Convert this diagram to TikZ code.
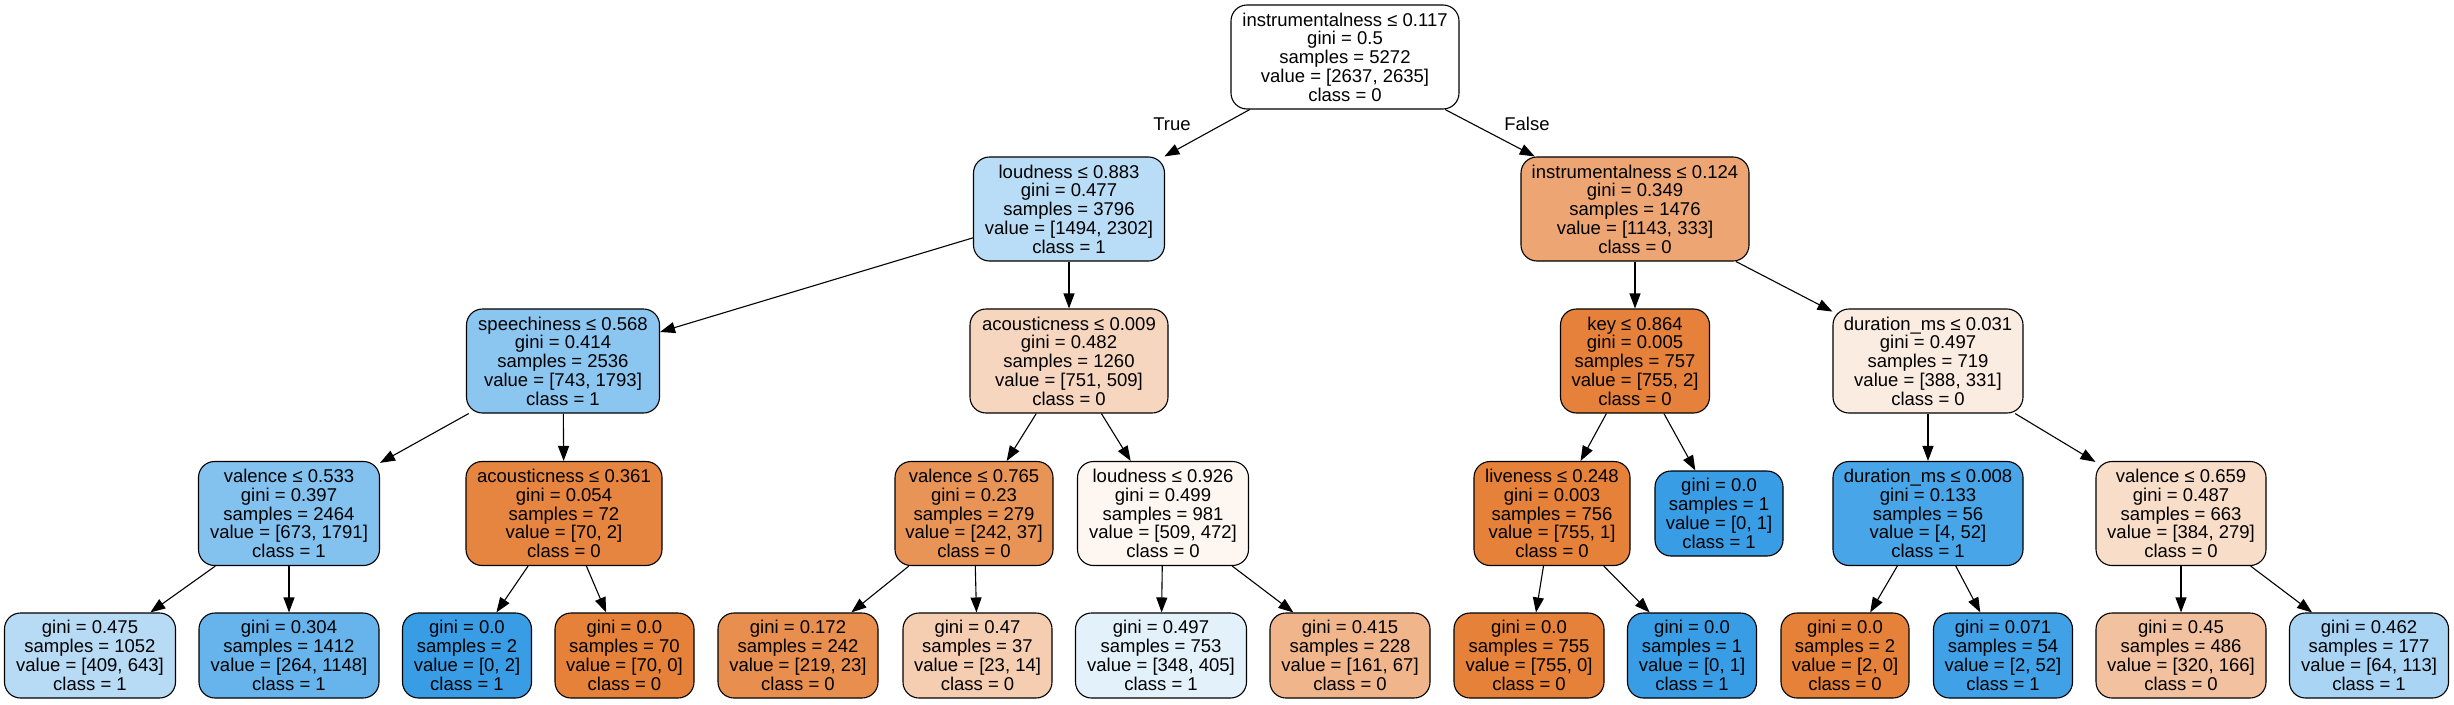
\documentclass[tikz,border=0pt]{standalone}
\usepackage{fontspec}
\setmainfont{Liberation Sans}
\usetikzlibrary{arrows.meta}
\tikzset{
  tn/.style={draw=black, line width=1.1pt, rounded corners=16pt, align=center, inner xsep=10pt, inner ysep=0pt,
    minimum height=104pt, font=\fontsize{18.5}{18.8}\selectfont},
  lf/.style={tn, minimum height=85pt},
  edge/.style={line width=1.1pt, -{Triangle[length=15pt,width=11pt]}},
  elab/.style={font=\fontsize{18.5}{18.8}\selectfont}
}
\begin{document}
\begin{tikzpicture}[x=1pt,y=-1pt]
\useasboundingbox (0,0) rectangle (2454,704);
% level 0
\node[tn, fill={rgb,255:red,255;green,255;blue,255}, minimum width=228pt] (root) at (1345,57) {instrumentalness ≤ 0.117\\gini = 0.5\\samples = 5272\\value = [2637, 2635]\\class = 0};
% level 1
\node[tn, fill={rgb,255:red,185;green,221;blue,246}, minimum width=191pt] (loud) at (1069,209) {loudness ≤ 0.883\\gini = 0.477\\samples = 3796\\value = [1494, 2302]\\class = 1};
\node[tn, fill={rgb,255:red,237;green,166;blue,115}, minimum width=228pt] (ins) at (1635,209) {instrumentalness ≤ 0.124\\gini = 0.349\\samples = 1476\\value = [1143, 333]\\class = 0};
% level 2
\node[tn, fill={rgb,255:red,139;green,198;blue,240}, minimum width=193pt] (spe) at (563,361) {speechiness ≤ 0.568\\gini = 0.414\\samples = 2536\\value = [743, 1793]\\class = 1};
\node[tn, fill={rgb,255:red,247;green,214;blue,191}, minimum width=198pt] (ac9) at (1069,361) {acousticness ≤ 0.009\\gini = 0.482\\samples = 1260\\value = [751, 509]\\class = 0};
\node[tn, fill={rgb,255:red,229;green,129;blue,58}, minimum width=149pt] (key) at (1635,361) {key ≤ 0.864\\gini = 0.005\\samples = 757\\value = [755, 2]\\class = 0};
\node[tn, fill={rgb,255:red,251;green,236;blue,226}, minimum width=190pt] (d31) at (1928,361) {duration\_ms ≤ 0.031\\gini = 0.497\\samples = 719\\value = [388, 331]\\class = 0};
% level 3
\node[tn, fill={rgb,255:red,131;green,194;blue,239}, minimum width=181pt] (v533) at (289,513.5) {valence ≤ 0.533\\gini = 0.397\\samples = 2464\\value = [673, 1791]\\class = 1};
\node[tn, fill={rgb,255:red,230;green,133;blue,63}, minimum width=196pt] (a361) at (564,513.5) {acousticness ≤ 0.361\\gini = 0.054\\samples = 72\\value = [70, 2]\\class = 0};
\node[tn, fill={rgb,255:red,233;green,148;blue,87}, minimum width=158pt] (v765) at (974,513.5) {valence ≤ 0.765\\gini = 0.23\\samples = 279\\value = [242, 37]\\class = 0};
\node[tn, fill={rgb,255:red,253;green,246;blue,241}, minimum width=171pt] (l926) at (1163,513.5) {loudness ≤ 0.926\\gini = 0.499\\samples = 981\\value = [509, 472]\\class = 0};
\node[tn, fill={rgb,255:red,229;green,129;blue,57}, minimum width=156pt] (live) at (1552,513.5) {liveness ≤ 0.248\\gini = 0.003\\samples = 756\\value = [755, 1]\\class = 0};
\node[lf, fill={rgb,255:red,57;green,157;blue,229}, minimum width=128pt] (lk) at (1719,513.5) {gini = 0.0\\samples = 1\\value = [0, 1]\\class = 1};
\node[tn, fill={rgb,255:red,72;green,165;blue,231}, minimum width=190pt] (d8) at (1928,513.5) {duration\_ms ≤ 0.008\\gini = 0.133\\samples = 56\\value = [4, 52]\\class = 1};
\node[tn, fill={rgb,255:red,248;green,221;blue,201}, minimum width=170pt] (v659) at (2181,513.5) {valence ≤ 0.659\\gini = 0.487\\samples = 663\\value = [384, 279]\\class = 0};
% level 4
\node[lf, fill={rgb,255:red,183;green,219;blue,245}, minimum width=171pt] (g1) at (90,655.5) {gini = 0.475\\samples = 1052\\value = [409, 643]\\class = 1};
\node[lf, fill={rgb,255:red,102;green,180;blue,235}, minimum width=180pt] (g2) at (289,655.5) {gini = 0.304\\samples = 1412\\value = [264, 1148]\\class = 1};
\node[lf, fill={rgb,255:red,57;green,157;blue,229}, minimum width=129pt] (g3) at (467,655.5) {gini = 0.0\\samples = 2\\value = [0, 2]\\class = 1};
\node[lf, fill={rgb,255:red,229;green,129;blue,57}, minimum width=139pt] (g4) at (624.5,655.5) {gini = 0.0\\samples = 70\\value = [70, 0]\\class = 0};
\node[lf, fill={rgb,255:red,232;green,142;blue,78}, minimum width=160pt] (g5) at (798,655.5) {gini = 0.172\\samples = 242\\value = [219, 23]\\class = 0};
\node[lf, fill={rgb,255:red,245;green,206;blue,177}, minimum width=149pt] (g6) at (977.5,655.5) {gini = 0.47\\samples = 37\\value = [23, 14]\\class = 0};
\node[lf, fill={rgb,255:red,227;green,241;blue,251}, minimum width=171pt] (g7) at (1161,655.5) {gini = 0.497\\samples = 753\\value = [348, 405]\\class = 1};
\node[lf, fill={rgb,255:red,240;green,181;blue,139}, minimum width=160pt] (g8) at (1350,655.5) {gini = 0.415\\samples = 228\\value = [161, 67]\\class = 0};
\node[lf, fill={rgb,255:red,229;green,129;blue,57}, minimum width=150pt] (g9) at (1529,655.5) {gini = 0.0\\samples = 755\\value = [755, 0]\\class = 0};
\node[lf, fill={rgb,255:red,57;green,157;blue,229}, minimum width=129pt] (g10) at (1692,655.5) {gini = 0.0\\samples = 1\\value = [0, 1]\\class = 1};
\node[lf, fill={rgb,255:red,229;green,129;blue,57}, minimum width=128pt] (g11) at (1845,655.5) {gini = 0.0\\samples = 2\\value = [2, 0]\\class = 0};
\node[lf, fill={rgb,255:red,65;green,161;blue,230}, minimum width=139pt] (g12) at (2003,655.5) {gini = 0.071\\samples = 54\\value = [2, 52]\\class = 1};
\node[lf, fill={rgb,255:red,242;green,194;blue,160}, minimum width=170pt] (g13) at (2181,655.5) {gini = 0.45\\samples = 486\\value = [320, 166]\\class = 0};
\node[lf, fill={rgb,255:red,169;green,212;blue,244}, minimum width=159pt] (g14) at (2369,655.5) {gini = 0.462\\samples = 177\\value = [64, 113]\\class = 1};
% edges
\draw[edge] (root) -- (loud);
\draw[edge] (root) -- (ins);
\draw[edge] (loud) -- (spe);
\draw[edge] (loud) -- (ac9);
\draw[edge] (ins) -- (key);
\draw[edge] (ins) -- (d31);
\draw[edge] (spe) -- (v533);
\draw[edge] (spe) -- (a361);
\draw[edge] (ac9) -- (v765);
\draw[edge] (ac9) -- (l926);
\draw[edge] (key) -- (live);
\draw[edge] (key) -- (lk);
\draw[edge] (d31) -- (d8);
\draw[edge] (d31) -- (v659);
\draw[edge] (v533) -- (g1);
\draw[edge] (v533) -- (g2);
\draw[edge] (a361) -- (g3);
\draw[edge] (a361) -- (g4);
\draw[edge] (v765) -- (g5);
\draw[edge] (v765) -- (g6);
\draw[edge] (l926) -- (g7);
\draw[edge] (l926) -- (g8);
\draw[edge] (live) -- (g9);
\draw[edge] (live) -- (g10);
\draw[edge] (d8) -- (g11);
\draw[edge] (d8) -- (g12);
\draw[edge] (v659) -- (g13);
\draw[edge] (v659) -- (g14);
% labels
\node[elab] (tlab) at (1172,124) {True};
\node[elab] (flab) at (1527,124) {False};
\end{tikzpicture}
\end{document}
